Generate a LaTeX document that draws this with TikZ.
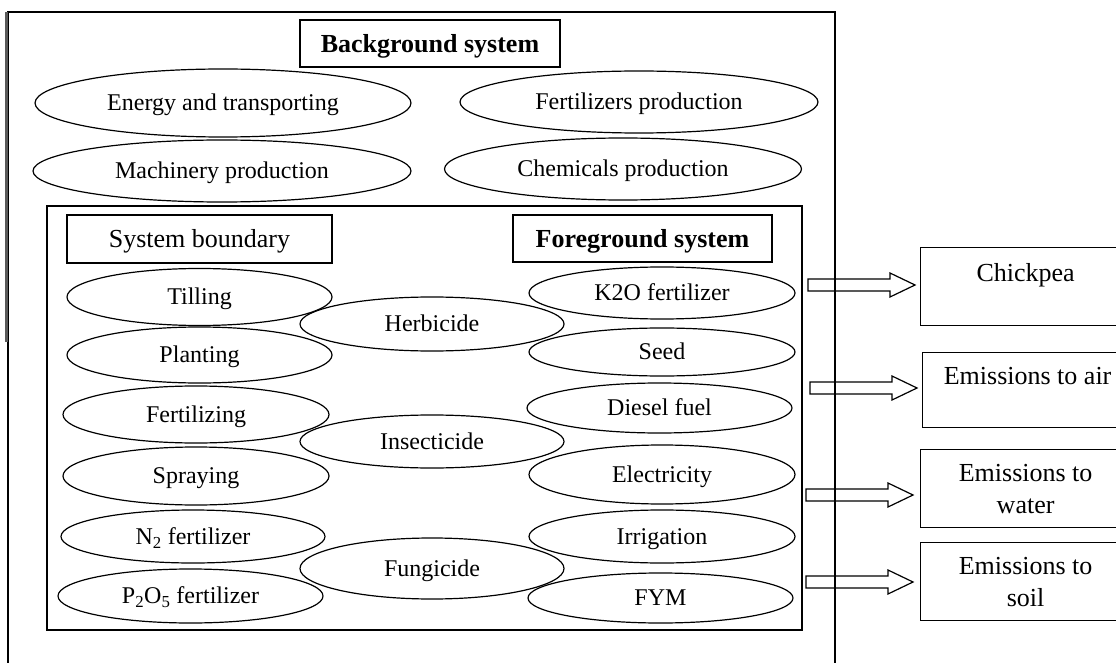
\documentclass[tikz,border=0pt]{standalone}
\usepackage{fontspec}
\setmainfont{Liberation Serif}
\usepackage{xcolor}
\usetikzlibrary{shapes.geometric,calc,positioning}

\newcommand{\blockarrow}[2]{%
  \draw [fatarrow] ($(#1)+(0,-6)$) -- ($(#2)+(-25,-6)$) -- ($(#2)+(-25,-12)$) -- (#2)
    -- ($(#2)+(-25,12)$) -- ($(#2)+(-25,6)$) -- ($(#1)+(0,6)$) -- cycle ;}

\begin{document}
\begin{tikzpicture}[x=1pt,y=1pt,yscale=-1,xscale=1,
  proc/.style={ellipse, draw, line width=1.2pt, inner sep=0pt, text height=15.9pt, text depth=0pt, font=\fontsize{24}{28}\selectfont},
  sysbox/.style={rectangle, draw, line width=1.2pt, inner sep=0pt, text height=17.2pt, text depth=0pt, font=\fontsize{26}{30}\selectfont},
  outbox/.style={rectangle, draw, line width=1.2pt, inner sep=0pt, minimum width=210, align=center, font=\fontsize{26}{32}\selectfont},
  fatarrow/.style={draw, line width=1.2pt, line join=miter}]
\useasboundingbox (0,0) rectangle (1116,663);
\clip (0,0) rectangle (1116,663);

%Outer frame
\draw [line width=1.2pt] (8,663) -- (8,12) -- (835,12) -- (835,663) ;
\draw [color={rgb, 255:red, 90; green, 90; blue, 90 }, line width=2.4pt] (6.5,12) -- (6.5,342) ;

% Text Node
\node [sysbox, minimum width=260, minimum height=47] (bgsys) at (430,43.5) {\bfseries Background system};

%Shape: Ellipse
\node [proc, minimum width=376, minimum height=68] (energy) at (223,103) {Energy and transporting};
\node [proc, minimum width=378, minimum height=62] (machinery) at (222,171) {Machinery production};
\node [proc, minimum width=358, minimum height=62] (fertprod) at (639,102) {Fertilizers production};
\node [proc, minimum width=357, minimum height=62] (chemprod) at (623,169) {Chemicals production};

%Shape: Rectangle
\node [draw, line width=1.2pt, inner sep=0pt, minimum width=755, minimum height=424] (boundary) at (424.5,418) {};

% Text Node
\node [sysbox, minimum width=265, minimum height=48] (sysb) at (199.5,239) {System boundary};
\node [sysbox, minimum width=259, minimum height=47] (fgsys) at (642.5,238.5) {\bfseries Foreground system};

%Shape: Ellipse
\node [proc, minimum width=265, minimum height=57] (tilling) at (199.5,297) {Tilling};
\node [proc, minimum width=265, minimum height=56] (planting) at (199.5,355) {Planting};
\node [proc, minimum width=266, minimum height=57] (fertilizing) at (196,414.5) {Fertilizing};
\node [proc, minimum width=266, minimum height=58] (spraying) at (196,476) {Spraying};
\node [proc, minimum width=264, minimum height=53] (nfert) at (193,536.5) {N\textsubscript{2} fertilizer};
\node [proc, minimum width=265, minimum height=54] (pfert) at (190.5,596) {P\textsubscript{2}O\textsubscript{5} fertilizer};

\node [proc, minimum width=264, minimum height=54] (herbicide) at (432,324) {Herbicide};
\node [proc, minimum width=264, minimum height=53] (insecticide) at (432,441.5) {Insecticide};
\node [proc, minimum width=264, minimum height=61] (fungicide) at (432,568.5) {Fungicide};

\node [proc, minimum width=266, minimum height=52] (kfert) at (662,293) {K2O fertilizer};
\node [proc, minimum width=266, minimum height=48] (seed) at (662,352) {Seed};
\node [proc, minimum width=265, minimum height=50] (diesel) at (659.5,408) {Diesel fuel};
\node [proc, minimum width=266, minimum height=59] (electricity) at (662,474.5) {Electricity};
\node [proc, minimum width=266, minimum height=53] (irrigation) at (662,536.5) {Irrigation};
\node [proc, minimum width=265, minimum height=50] (fym) at (660.5,598) {FYM};

% Outputs
\node [outbox, anchor=north west, text height=33.6, text depth=44.4] (chickpea) at (920,247) {Chickpea};
\node [outbox, anchor=north west, text height=31.5, text depth=43.5] (air) at (922,352) {Emissions to air};
\node [outbox, anchor=north west, minimum height=78] (water) at (920,449) {Emissions to\\water};
\node [outbox, anchor=north west, minimum height=78] (soil) at (920,542) {Emissions to\\soil};

%Block arrows
\coordinate (t1) at (808,285);
\coordinate (t2) at (810,388);
\coordinate (t3) at (806,495);
\coordinate (t4) at (806,582);
\blockarrow{t1}{$(chickpea.west |- t1)+(-5,0)$}
\blockarrow{t2}{$(air.west |- t2)+(-5,0)$}
\blockarrow{t3}{$(water.west |- t3)+(-7,0)$}
\blockarrow{t4}{$(soil.west |- t4)+(-7,0)$}

\end{tikzpicture}
\end{document}
